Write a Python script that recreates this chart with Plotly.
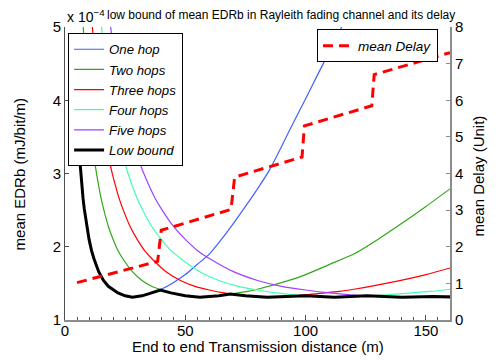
import plotly.graph_objects as go

# distances (m) and mean EDRb (x 1e-4 mJ/bit/m)
one_hop_d = [4, 4.5, 5, 5.5, 6, 6.5, 7, 7.5, 8, 9, 10, 11, 12, 14, 16, 18, 20, 22, 25, 28, 30, 32, 35, 38, 40,
             45, 50, 55, 60, 65, 70, 75, 80, 85, 90, 95, 100, 105, 110, 115, 118]
one_hop_e = [4.75, 4.24, 3.84, 3.51, 3.24, 3.02, 2.83, 2.66, 2.52, 2.28, 2.10, 1.95, 1.84, 1.66, 1.54, 1.46, 1.41,
             1.37, 1.33, 1.31, 1.32, 1.33, 1.36, 1.39, 1.42, 1.51, 1.62, 1.76, 1.90, 2.10, 2.32, 2.55, 2.79, 3.05,
             3.37, 3.70, 4.02, 4.35, 4.67, 5.00, 5.20]

two_hop_d = [7, 8, 9, 10, 11, 12, 13, 14, 15, 16, 18, 20, 22, 24, 28, 32, 36, 40, 44, 50, 56, 60, 64, 70, 76, 80,
             90, 100, 110, 120, 130, 140, 150, 160]
two_hop_e = [5.35, 4.75, 4.24, 3.84, 3.51, 3.24, 3.02, 2.83, 2.66, 2.52, 2.28, 2.10, 1.95, 1.84, 1.66, 1.54, 1.46,
             1.41, 1.37, 1.33, 1.31, 1.32, 1.33, 1.36, 1.39, 1.42, 1.51, 1.62, 1.76, 1.90, 2.10, 2.32, 2.55, 2.79]

three_hop_d = [10.5, 12, 13.5, 15, 16.5, 18, 19.5, 21, 22.5, 24, 27, 30, 33, 36, 42, 48, 54, 60, 66, 75, 84, 90,
               96, 105, 114, 120, 135, 150, 160]
three_hop_e = [5.35, 4.75, 4.24, 3.84, 3.51, 3.24, 3.02, 2.83, 2.66, 2.52, 2.28, 2.10, 1.95, 1.84, 1.66, 1.54,
               1.46, 1.41, 1.37, 1.33, 1.31, 1.32, 1.33, 1.36, 1.39, 1.42, 1.51, 1.62, 1.71]

four_hop_d = [14, 16, 18, 20, 22, 24, 26, 28, 30, 32, 36, 40, 44, 48, 56, 64, 72, 80, 88, 100, 112, 120, 128, 140,
              152, 160]
four_hop_e = [5.35, 4.75, 4.24, 3.84, 3.51, 3.24, 3.02, 2.83, 2.66, 2.52, 2.28, 2.10, 1.95, 1.84, 1.66, 1.54,
              1.46, 1.41, 1.37, 1.33, 1.31, 1.32, 1.33, 1.36, 1.39, 1.42]

five_hop_d = [17.5, 20, 22.5, 25, 27.5, 30, 32.5, 35, 37.5, 40, 45, 50, 55, 60, 70, 80, 90, 100, 110, 125, 140,
              150, 160]
five_hop_e = [5.35, 4.75, 4.24, 3.84, 3.51, 3.24, 3.02, 2.83, 2.66, 2.52, 2.28, 2.10, 1.95, 1.84, 1.66, 1.54,
              1.46, 1.41, 1.37, 1.33, 1.31, 1.32, 1.33]

low_d = [4, 4.5, 5, 5.5, 6, 6.5, 7, 7.5, 8, 9, 10, 11, 12, 14, 16, 18, 20, 22, 25, 28, 30, 32, 35, 38, 39.6, 44,
         50, 56, 60, 64, 68.6, 75, 84, 90, 97, 100, 112, 120, 125.5, 140, 153, 160]
low_e = [4.75, 4.24, 3.84, 3.51, 3.24, 3.02, 2.83, 2.66, 2.52, 2.28, 2.10, 1.95, 1.84, 1.66, 1.54, 1.46, 1.41,
         1.37, 1.33, 1.31, 1.32, 1.33, 1.36, 1.39, 1.41, 1.37, 1.33, 1.31, 1.32, 1.33, 1.355, 1.33, 1.31, 1.32,
         1.335, 1.33, 1.31, 1.32, 1.33, 1.31, 1.32, 1.315]

# mean delay (unit), right axis
delay_d = [5, 38.5, 40, 69, 70.5, 98.5, 99.5, 127.5, 128.5, 160]
delay_v = [1.02, 1.60, 2.45, 3.02, 3.90, 4.45, 5.30, 5.85, 6.70, 7.30]

FONT = "Liberation Sans, Arial, sans-serif"

curves = [
    ("One hop", one_hop_d, one_hop_e, "#4060ff"),
    ("Two hops", two_hop_d, two_hop_e, "#30a818"),
    ("Three hops", three_hop_d, three_hop_e, "#ff0000"),
    ("Four hops", four_hop_d, four_hop_e, "#40ffb0"),
    ("Five hops", five_hop_d, five_hop_e, "#a040ff"),
]

fig = go.Figure()
for name, xs, ys, color in curves:
    fig.add_trace(go.Scatter(x=xs, y=ys, name=name, mode="lines",
                             line=dict(color=color, width=1.2, shape="spline", smoothing=0.6)))
fig.add_trace(go.Scatter(x=low_d, y=low_e, name="Low bound", mode="lines",
                         line=dict(color="black", width=3)))
fig.add_trace(go.Scatter(x=delay_d, y=delay_v, name="mean Delay", mode="lines", yaxis="y2",
                         legend="legend2", line=dict(color="#ff0000", width=3, dash="10px,6px")))


def legend_box(x, y, size):
    return dict(x=x, y=y, xanchor="left", yanchor="top", bgcolor="white", bordercolor="black",
                borderwidth=1, font=dict(family=FONT, size=size, color="black", style="italic"))


def label(text, x, y, size, angle=0):
    return dict(text=text, x=x, y=y, xref="paper", yref="paper", xanchor="center", yanchor="middle",
                textangle=angle, showarrow=False, font=dict(size=size))


fig.update_layout(
    width=498, height=361,
    margin=dict(l=65, r=48, t=27, b=41),
    paper_bgcolor="white", plot_bgcolor="white",
    font=dict(family=FONT, size=14, color="black"),
    showlegend=True,
    legend=legend_box(0.008, 0.979, 13.2),
    legend2=legend_box(0.6545, 0.9915, 13.5),
    xaxis=dict(range=[0, 160], dtick=50, ticks="inside", ticklen=5, tickcolor="#505050",
               showline=True, linecolor="#8c8c8c", linewidth=2, showgrid=False, zeroline=False,
               minor=dict(dtick=5, ticks="inside", ticklen=3, tickcolor="#505050"),
               tickfont=dict(size=15), ticklabelstandoff=-4),
    yaxis=dict(range=[1, 5], dtick=1, ticks="inside", ticklen=4, tickcolor="#505050",
               showline=True, linecolor="#505050", linewidth=1, showgrid=False, zeroline=False,
               tickfont=dict(size=15)),
    yaxis2=dict(range=[0, 8], dtick=1, overlaying="y", side="right", ticks="inside", ticklen=4,
                tickcolor="#8c8c8c", showline=True, linecolor="#8c8c8c", linewidth=2,
                showgrid=False, zeroline=False, tickfont=dict(size=15)),
    annotations=[
        label("low bound of mean EDRb in Rayleith fading channel and its delay", 0.562, 1 + 12 / 293, 12),
        dict(text="x 10<sup>−4</sup>", x=0, y=1, xref="paper", yref="paper", xanchor="left",
             yanchor="bottom", showarrow=False, font=dict(size=14)),
        label("mean EDRb (mJ/bit/m)", -0.117, 0.5, 15, -90),
        label("mean Delay (Unit)", 1.073, 0.49, 15, -90),
        label("End to end Transmission distance (m)", 0.5, -0.092, 15),
    ],
)

# the page body has a default 8px margin; drop it so the figure fills the window
fig.write_html("out.html", config={"displayModeBar": False},
               post_script="document.body.style.margin='0';")
